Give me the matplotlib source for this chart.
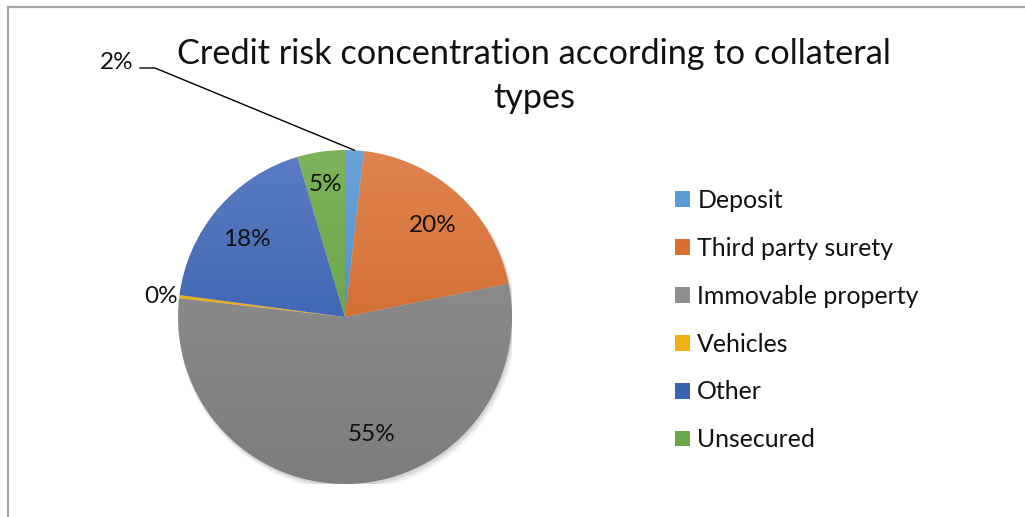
import numpy as np
import matplotlib
matplotlib.use("Agg")
import matplotlib.pyplot as plt
from matplotlib.colors import LinearSegmentedColormap
from matplotlib.patches import Patch, Circle
from matplotlib.lines import Line2D

# ---- data ----
categories = ["Deposit", "Third party surety", "Immovable property",
              "Vehicles", "Other", "Unsecured"]
values = [1.8, 20.0, 55.0, 0.3, 18.3, 4.6]
title = "Credit risk concentration according to collateral\ntypes"

# ---- style ----
top_colors = ["#6AA3D8", "#E0844F", "#939393", "#F5B93A", "#5B7CC2", "#7DB35A"]
bot_colors = ["#3C7FC0", "#C95C1C", "#7D7D7D", "#E0A000", "#2A54A5", "#5E9A3A"]
legend_colors = ["#5B9BD5", "#DB6F30", "#8E8E8E", "#F0B010", "#3A62B2", "#6AA64A"]
font = ["Lato", "DejaVu Sans"]
plt.rcParams["font.family"] = font

W, H = 1025, 517
fig = plt.figure(figsize=(W / 100, H / 100), dpi=100)
fig.patch.set_facecolor("white")

cx, cy, R = 345, 317, 167
ax = fig.add_axes([(cx - R) / W, (H - cy - R) / H, 2 * R / W, 2 * R / H])
ax.set_xlim(-1, 1)
ax.set_ylim(-1, 1)
ax.set_aspect("equal")
ax.axis("off")

# soft shadow (offset right/down)
for i, a in enumerate([0.06, 0.05, 0.04, 0.03]):
    ax.add_patch(Circle((0.006 + 0.003 * i, -0.012 - 0.005 * i), 1.0 + 0.004 * i,
                        color="black", alpha=a, lw=0, zorder=0))

wedges, _ = ax.pie(values, startangle=90, counterclock=False, radius=1,
                   wedgeprops=dict(linewidth=0))
grad = np.linspace(0, 1, 256).reshape(-1, 1)
for w, tc, bc in zip(wedges, top_colors, bot_colors):
    w.set_facecolor("none")
    cmap = LinearSegmentedColormap.from_list("g", [tc, bc])
    im = ax.imshow(grad, extent=(-1, 1, -1, 1), origin="upper", cmap=cmap,
                   aspect="auto", zorder=1, interpolation="bilinear")
    im.set_clip_path(w)
ax.set_xlim(-1, 1)
ax.set_ylim(-1, 1)

lab_fs = 17.5
# ---- labels ----
label_r = [None, 0.76, 0.72, None, 0.75, 0.80]
label_dang = [0, -1.5, 10, 0, 2, 0]
for w, v, r, da in zip(wedges, values, label_r, label_dang):
    mid = np.deg2rad((w.theta1 + w.theta2) / 2 + da)
    txt = f"{v:.0f}%"
    if r is not None:
        ax.text(r * np.cos(mid), r * np.sin(mid), txt, ha="center", va="center",
                fontsize=lab_fs, color="#111111", zorder=5)

# Deposit outside label with leader
w0 = wedges[0]
a0 = np.deg2rad((w0.theta1 + w0.theta2) / 2)
p0 = (np.cos(a0), np.sin(a0))
kx, ky = (155 - cx) / R, (cy - 68) / R
ex = (140 - cx) / R
ax.plot([p0[0], kx, ex], [p0[1], ky, ky], color="black", lw=1.0, clip_on=False, zorder=5)
ax.text(ex - 0.04, ky + 0.035, f"{values[0]:.0f}%", ha="right", va="center",
        fontsize=lab_fs, color="#111111")

# Vehicles outside label
w3 = wedges[3]
a3 = np.deg2rad((w3.theta1 + w3.theta2) / 2)
ax.text(np.cos(a3) - 0.01, np.sin(a3) + 0.0, f"{values[3]:.0f}%", ha="right",
        va="center", fontsize=lab_fs, color="#111111")

# ---- title ----
fig.text(534 / W, 1 - 76 / H, title, ha="center", va="center", fontsize=24.7,
         color="#111111", linespacing=1.5)

# ---- legend ----
handles = [Patch(facecolor=c, edgecolor="none") for c in legend_colors]
leg = fig.legend(handles, categories, loc="upper left",
                 bbox_to_anchor=(675 / W, 1 - 189 / H), frameon=False,
                 fontsize=17.9, handlelength=0.6, handleheight=0.6,
                 handletextpad=0.3, labelspacing=1.0, borderpad=0, borderaxespad=0)
for t in leg.get_texts():
    t.set_color("#111111")

# ---- frame ----
fig.add_artist(Line2D([8 / W, 8 / W], [0, 1 - 7 / H], transform=fig.transFigure,
                      color="#A6A6A6", lw=1.6))
fig.add_artist(Line2D([8 / W, 1], [1 - 7 / H, 1 - 7 / H], transform=fig.transFigure,
                      color="#A6A6A6", lw=1.6))

fig.savefig("out.png", dpi=100, facecolor="white")
